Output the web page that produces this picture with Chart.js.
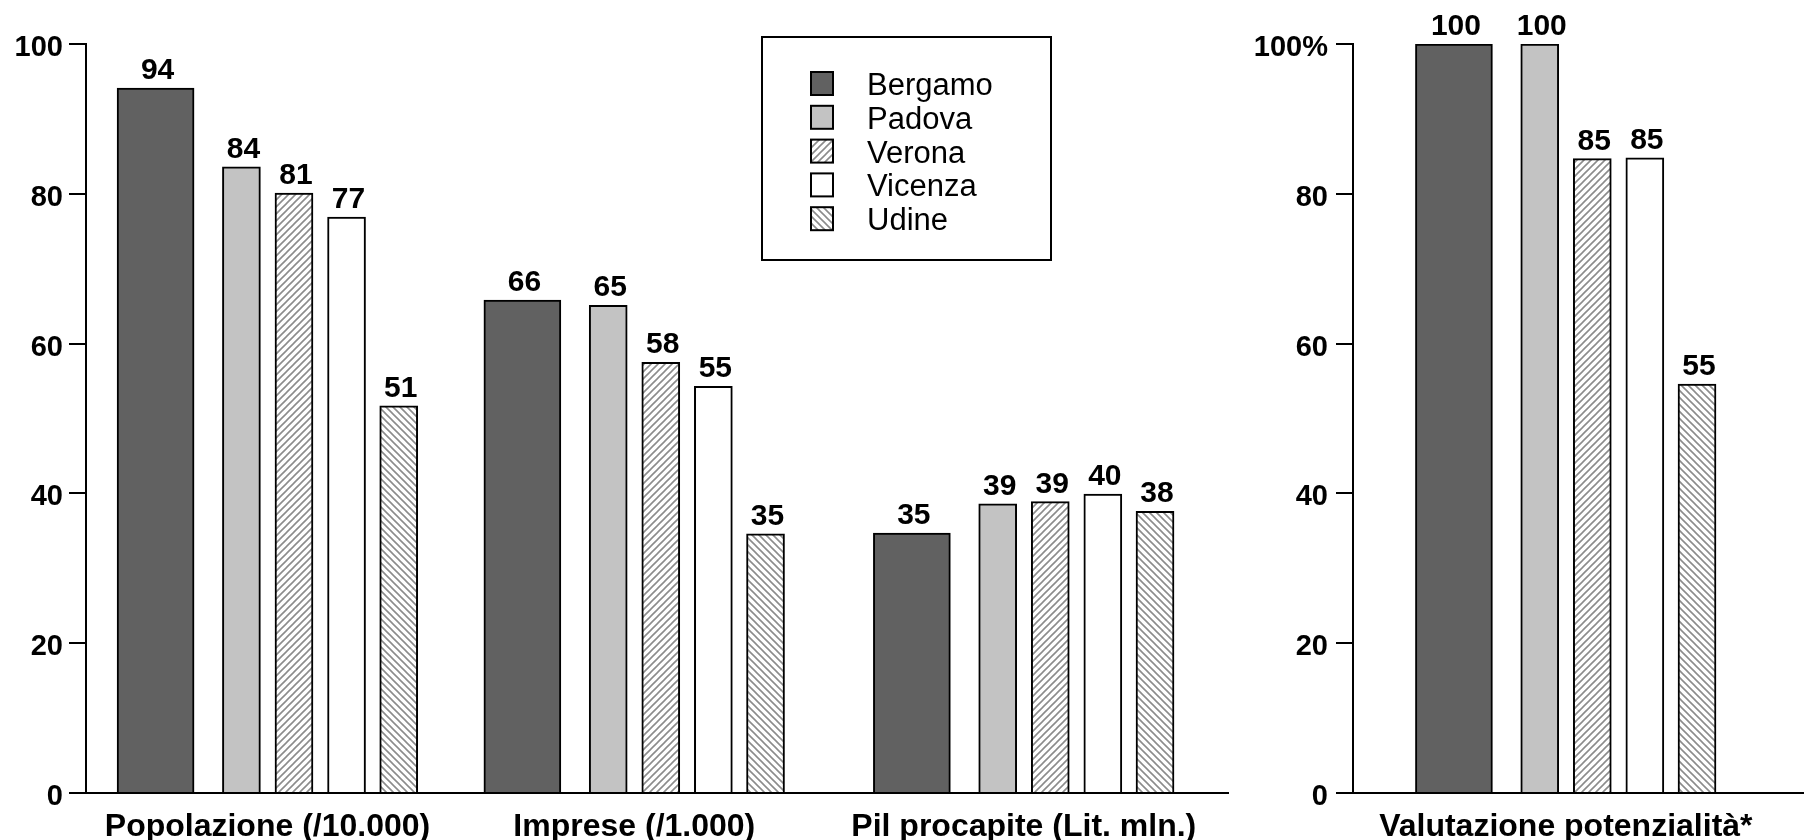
<!DOCTYPE html>
<html>
<head>
<meta charset="utf-8">
<script src="https://cdn.jsdelivr.net/npm/chart.js@4.4.1/dist/chart.umd.min.js"></script>
<style>
    body { margin: 0; background: #fff; }
    #wrap { position: relative; width: 1804px; height: 840px; }
    #leftChart { position: absolute; left: 0; top: 0; }
    #rightChart { position: absolute; left: 1240px; top: 0; }
</style>
</head>
<body>
<div id="wrap">
    <canvas id="leftChart" width="1240" height="840"></canvas>
    <canvas id="rightChart" width="564" height="840"></canvas>
</div>
<script>
// data
const cities = ['Bergamo', 'Padova', 'Verona', 'Vicenza', 'Udine'];
const categories = ['Popolazione (/10.000)', 'Imprese (/1.000)', 'Pil procapite (Lit. mln.)'];
const potCategory = ['Valutazione potenzialità*'];

// bar heights
const bergamo = [94.1, 65.8, 34.7];
const padova = [83.6, 65.1, 38.6];
const verona = [80.1, 57.5, 38.9];
const vicenza = [76.9, 54.3, 39.9];
const udine = [51.7, 34.6, 37.6];
const potenzialita = [100, 100, 84.7, 84.8, 54.6];

// numbers printed above the bars
const bergamoText = [94, 66, 35];
const padovaText = [84, 65, 39];
const veronaText = [81, 58, 39];
const vicenzaText = [77, 55, 40];
const udineText = [51, 35, 38];
const potenzialitaText = [100, 100, 85, 85, 55];

const yTicks = [0, 20, 40, 60, 80, 100];

const leftValues = [bergamo, padova, verona, vicenza, udine];
const leftTexts = [bergamoText, padovaText, veronaText, vicenzaText, udineText];

// layout: where the groups sit on the x axis and the bars inside each group (group units)
const groupSlots = [0, 0.97, 2];
const barOffsets = [-0.296, -0.069, 0.070, 0.209, 0.347];
const barWidths = [77, 38, 38, 38, 38];

const FONT = "'Liberation Sans', Arial, Helvetica, sans-serif";
Chart.defaults.font.family = FONT;
Chart.defaults.color = '#000';
Chart.defaults.animation = false;

function hatch(ctx, dir) {
    const s = 7;
    const c = document.createElement('canvas');
    c.width = s; c.height = s;
    const g = c.getContext('2d');
    g.fillStyle = '#fff';
    g.fillRect(0, 0, s, s);
    g.strokeStyle = '#8c8c8c';
    g.lineWidth = 1.6;
    g.beginPath();
    if (dir === '/') {
        g.moveTo(-1, s + 1); g.lineTo(s + 1, -1);
        g.moveTo(-1, 1); g.lineTo(1, -1);
        g.moveTo(s - 1, s + 1); g.lineTo(s + 1, s - 1);
    } else {
        g.moveTo(-1, -1); g.lineTo(s + 1, s + 1);
        g.moveTo(s - 1, -1); g.lineTo(s + 1, 1);
        g.moveTo(-1, s - 1); g.lineTo(1, s + 1);
    }
    g.stroke();
    return ctx.createPattern(c, 'repeat');
}

function fillsFor(ctx) {
    return ['#616161', '#c3c3c3', hatch(ctx, '/'), '#ffffff', hatch(ctx, '\\')];
}

function buildDatasets(ctx, valuesPerCity, textsPerCity, groups) {
    const fills = fillsFor(ctx);
    return cities.map((city, i) => ({
        label: city,
        data: groups.map((g, j) => ({ x: g + barOffsets[i], y: valuesPerCity[i][j] })),
        printed: textsPerCity[i],
        backgroundColor: fills[i],
        borderColor: '#000',
        borderWidth: 2,
        borderSkipped: 'start',
        barThickness: barWidths[i],
        grouped: false
    }));
}

const valueLabels = {
    id: 'valueLabels',
    afterDatasetsDraw(chart) {
        const ctx = chart.ctx;
        ctx.save();
        ctx.font = 'bold 30px ' + FONT;
        ctx.fillStyle = '#000';
        ctx.textAlign = 'center';
        ctx.textBaseline = 'alphabetic';
        chart.data.datasets.forEach((ds, i) => {
            chart.getDatasetMeta(i).data.forEach((bar, j) => {
                ctx.fillText(String(ds.printed[j]), bar.x + 2, bar.y - 9);
            });
        });
        ctx.restore();
    }
};

const boxLegend = {
    id: 'boxLegend',
    afterDraw(chart) {
        const ctx = chart.ctx;
        ctx.save();
        ctx.strokeStyle = '#000';
        ctx.lineWidth = 2;
        ctx.strokeRect(762, 37, 289, 223);
        ctx.font = '31px ' + FONT;
        ctx.textBaseline = 'alphabetic';
        chart.data.datasets.forEach((ds, i) => {
            const top = 72 + i * 33.8;
            ctx.fillStyle = ds.backgroundColor;
            ctx.fillRect(811, top, 22, 23);
            ctx.strokeRect(811, top, 22, 23);
            ctx.fillStyle = '#000';
            ctx.fillText(ds.label, 867, top + 23);
        });
        ctx.restore();
    }
};

function yAxis(width, topLabel, pad) {
    return {
        type: 'linear',
        min: 0,
        max: 100,
        afterFit: (scale) => { scale.width = width; },
        afterBuildTicks: (scale) => { scale.ticks = yTicks.map(v => ({ value: v })); },
        ticks: {
            font: { size: 29, weight: 'bold' },
            color: '#000',
            padding: pad,
            labelOffset: 4,
            callback: (v) => v === 100 ? topLabel : v
        },
        grid: { drawOnChartArea: false, color: '#000', lineWidth: 2, tickLength: 17 },
        border: { color: '#000', width: 2 }
    };
}

function xAxis(min, max, groups, labels) {
    return {
        type: 'linear',
        min: min,
        max: max,
        offset: false,
        afterFit: (scale) => { scale.height = 47; },
        afterBuildTicks: (scale) => { scale.ticks = groups.map(v => ({ value: v })); },
        ticks: {
            autoSkip: false,
            maxRotation: 0,
            font: { size: 32, weight: 'bold' },
            color: '#000',
            padding: 15,
            callback: (v, idx) => labels[idx]
        },
        grid: { display: false, drawTicks: false },
        border: { color: '#000', width: 2 }
    };
}

function makeChart(id, groups, valuesPerCity, textsPerCity, labels, xr, yWidth, topLabel, pad, plugins, rightPad) {
    const canvas = document.getElementById(id);
    const ctx = canvas.getContext('2d');
    return new Chart(ctx, {
        type: 'bar',
        data: { datasets: buildDatasets(ctx, valuesPerCity, textsPerCity, groups) },
        options: {
            responsive: false,
            animation: false,
            layout: { padding: { top: 44, right: rightPad, left: 0, bottom: 0 } },
            plugins: { legend: { display: false }, tooltip: { enabled: false } },
            scales: {
                x: xAxis(xr[0], xr[1], groups, labels),
                y: yAxis(yWidth, topLabel, pad)
            }
        },
        plugins: plugins
    });
}

makeChart('leftChart', groupSlots, leftValues, leftTexts, categories,
    [-0.48, 2.54], 86, '100', 6, [valueLabels, boxLegend], 12);

makeChart('rightChart', [0], potenzialita.map(v => [v]), potenzialitaText.map(v => [v]), potCategory,
    [-0.563, 0.63], 113, '100%', 8, [valueLabels], 0);
</script>
</body>
</html>
